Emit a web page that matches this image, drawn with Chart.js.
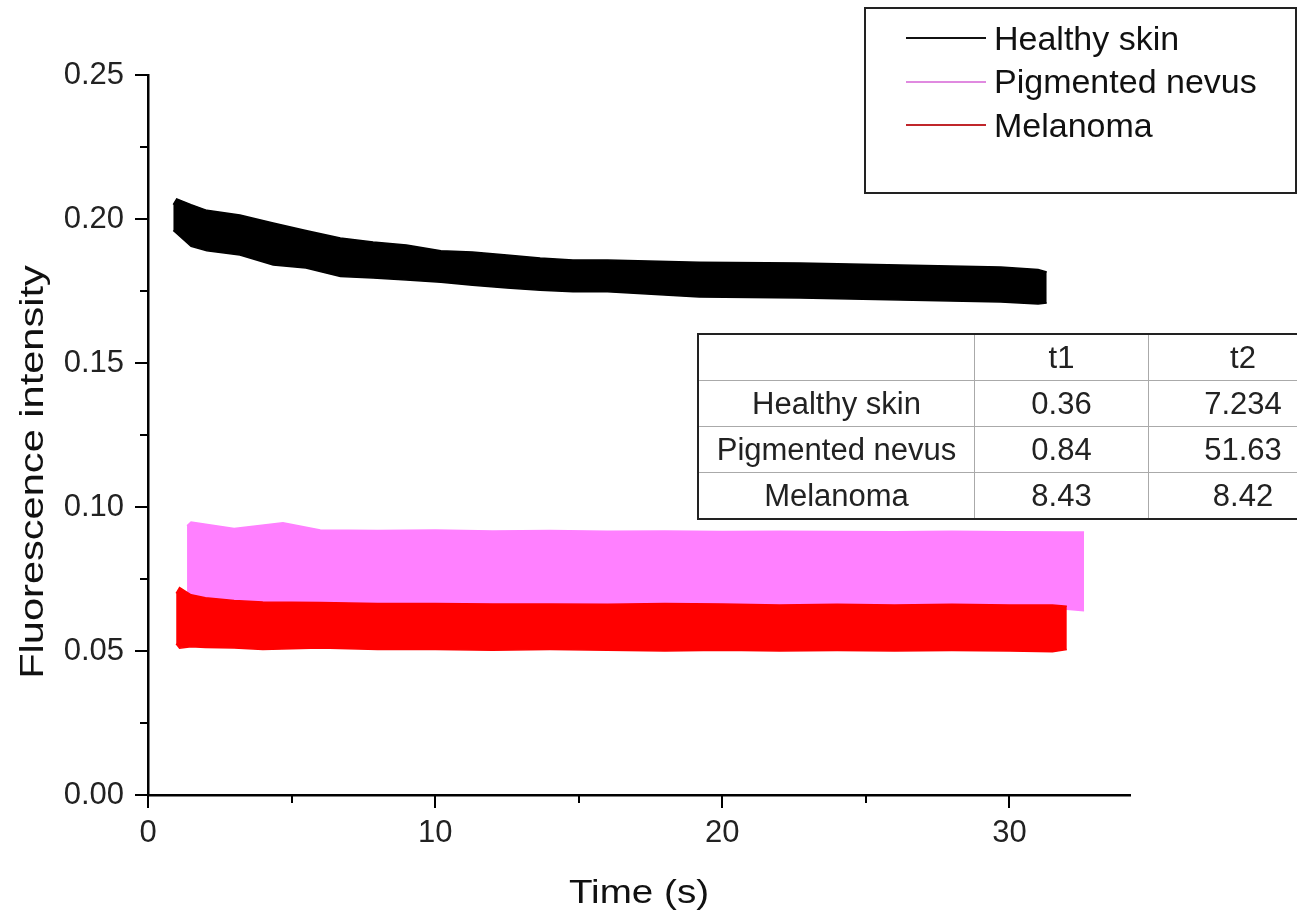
<!DOCTYPE html>
<html>
<head>
<meta charset="utf-8">
<title>Fluorescence intensity</title>
<script src="https://cdn.jsdelivr.net/npm/chart.js@4/dist/chart.umd.min.js"></script>
<style>
  body { margin: 0; background: #fff; overflow: hidden; }
  #wrap { position: relative; width: 1297px; height: 913px; overflow: hidden;
          font-family: "Liberation Sans", Arial, sans-serif; color: #111; }
  #legend { position: absolute; left: 864px; top: 7px; width: 433px; height: 187px;
            border: 2px solid #222; box-sizing: border-box; }
  #legend .row { position: absolute; left: 40px; height: 40px; display: flex; align-items: center;
                 font-size: 34px; white-space: nowrap; }
  #legend .line { display: inline-block; width: 80px; border-top: 2px solid; margin-right: 8px; }
  #tbl { position: absolute; left: 697px; top: 333px; width: 636px; table-layout: fixed;
         border-collapse: collapse; border: 2px solid #222; font-size: 31px; color: #222; }
  #tbl td { border: 1px solid #aaa; height: 45px; padding: 0; text-align: center; white-space: nowrap; }
</style>
</head>
<body>
<div id="wrap">
  <canvas id="myChart" width="1297" height="913"></canvas>
  <div id="legend"></div>
  <table id="tbl"></table>
</div>
<script>
// decay traces, stored as upper / lower edge of the noise band (s, a.u.)
var healthyTime  = [0.88, 1.0, 1.5, 2.05, 3.2, 4.36, 5.5, 6.7, 7.84, 9.0, 10.2, 11.3, 12.5, 13.66, 14.8, 16.0, 19.2, 22.7, 26.2, 29.7, 31.0, 31.3];
var healthyUpper = [0.205, 0.207, 0.205, 0.203, 0.2014, 0.1986, 0.196, 0.1934, 0.192, 0.191, 0.189, 0.1885, 0.1875, 0.1865, 0.1858, 0.1858, 0.185, 0.1847, 0.184, 0.1833, 0.1825, 0.1816];
var healthyLower = [0.196, 0.195, 0.1905, 0.189, 0.1875, 0.184, 0.183, 0.180, 0.1795, 0.1788, 0.178, 0.177, 0.176, 0.1753, 0.1747, 0.1747, 0.1729, 0.1726, 0.1719, 0.1712, 0.1705, 0.1708];

var nevusTime  = [1.36, 1.5, 3.0, 4.7, 6, 8, 10, 12, 14, 16, 18, 20, 22, 24, 26, 28, 30, 32, 32.6];
var nevusUpper = [0.0935, 0.0948, 0.0925, 0.0945, 0.092, 0.0918, 0.092, 0.0917, 0.0918, 0.0916, 0.0917, 0.0915, 0.0916, 0.0915, 0.0914, 0.0916, 0.0914, 0.0913, 0.0913];
var nevusLower = [0.066, 0.066, 0.0655, 0.0655, 0.0655, 0.0655, 0.0655, 0.0652, 0.0655, 0.0652, 0.0652, 0.065, 0.0652, 0.065, 0.065, 0.065, 0.0648, 0.0645, 0.064];

var melanomaTime  = [0.98, 1.1, 1.5, 2, 3, 4, 6, 8, 10, 12, 14, 16, 18, 20, 22, 24, 26, 28, 30, 31.5, 32.0];
var melanomaUpper = [0.070, 0.072, 0.0695, 0.0685, 0.0675, 0.067, 0.0668, 0.0665, 0.0665, 0.0663, 0.0663, 0.0662, 0.0665, 0.0663, 0.066, 0.0662, 0.066, 0.0662, 0.066, 0.066, 0.0655];
var melanomaLower = [0.0525, 0.051, 0.0515, 0.0512, 0.051, 0.0505, 0.051, 0.0505, 0.0505, 0.0503, 0.0505, 0.0503, 0.050, 0.0503, 0.050, 0.0502, 0.050, 0.0502, 0.050, 0.0497, 0.0505];

var seriesNames  = ['Healthy skin', 'Pigmented nevus', 'Melanoma'];
var seriesColors = ['#000000', '#ff80ff', '#ff0000'];
var legendColors = ['#111111', '#e08ae0', '#c0262b'];

// fitted lifetimes
var tableHead = ['', 't1', 't2'];
var t1 = ['0.36', '0.84', '8.43'];
var t2 = ['7.234', '51.63', '8.42'];

var xTicks = [0, 10, 20, 30];
var yTicks = [0.00, 0.05, 0.10, 0.15, 0.20, 0.25];
var xMax = 34.2;

function pts(t, v) {
  return t.map(function (x, i) { return { x: x, y: v[i] }; });
}

function band(name, color, t, up, lo) {
  return [
    { label: name, data: pts(t, up), borderColor: color, backgroundColor: color,
      borderWidth: 1.5, pointRadius: 0, tension: 0, fill: '+1' },
    { label: name, data: pts(t, lo), borderColor: color, backgroundColor: color,
      borderWidth: 1.5, pointRadius: 0, tension: 0, fill: false }
  ];
}

// first datasets are painted last, so melanoma sits on top of the nevus band
var datasets = []
  .concat(band(seriesNames[2], seriesColors[2], melanomaTime, melanomaUpper, melanomaLower))
  .concat(band(seriesNames[1], seriesColors[1], nevusTime, nevusUpper, nevusLower))
  .concat(band(seriesNames[0], seriesColors[0], healthyTime, healthyUpper, healthyLower));

var FONT = '"Liberation Sans", Arial, sans-serif';

// tick marks (major + minor, outside) and axis titles
var axisMarks = {
  id: 'axisMarks',
  afterDraw: function (chart) {
    var ctx = chart.ctx, x = chart.scales.x, y = chart.scales.y;
    var bottom = chart.chartArea.bottom, left = chart.chartArea.left;
    ctx.save();
    ctx.strokeStyle = '#000';
    ctx.lineWidth = 2;
    ctx.beginPath();
    for (var i = 0; i * 5 <= xMax; i++) {
      var px = Math.round(x.getPixelForValue(i * 5));
      ctx.moveTo(px, bottom);
      ctx.lineTo(px, bottom + (i % 2 === 0 ? 13 : 8));
    }
    for (var j = 0; j <= 10; j++) {
      var py = Math.round(y.getPixelForValue(j * 0.025));
      ctx.moveTo(left, py);
      ctx.lineTo(left - (j % 2 === 0 ? 13 : 8), py);
    }
    ctx.stroke();

    ctx.fillStyle = '#111';
    ctx.font = '33px ' + FONT;
    ctx.textAlign = 'center';
    ctx.textBaseline = 'alphabetic';
    ctx.save();
    ctx.translate(639, 903);
    ctx.scale(1.17, 1);
    ctx.fillText('Time (s)', 0, 0);
    ctx.restore();

    ctx.save();
    ctx.translate(43, 472);
    ctx.rotate(-Math.PI / 2);
    ctx.scale(1.26, 1);
    ctx.fillText('Fluorescence intensity', 0, 0);
    ctx.restore();
    ctx.restore();
  }
};

var ctx = document.getElementById('myChart').getContext('2d');
var chart = new Chart(ctx, {
  type: 'line',
  data: { datasets: datasets },
  options: {
    responsive: false,
    animation: false,
    layout: { padding: { top: 75, right: 167, left: 0, bottom: 0 } },
    plugins: { legend: { display: false }, tooltip: { enabled: false } },
    scales: {
      x: {
        type: 'linear', min: 0, max: xMax,
        afterFit: function (s) { s.height = 118; },
        afterBuildTicks: function (s) { s.ticks = xTicks.map(function (v) { return { value: v }; }); },
        grid: { display: false, drawTicks: false },
        border: { display: true, color: '#000', width: 2.5 },
        ticks: { color: '#222', padding: 20, maxRotation: 0, autoSkip: false,
                 font: { family: FONT, size: 31 } }
      },
      y: {
        min: 0, max: 0.25,
        afterFit: function (s) { s.width = 148; },
        afterBuildTicks: function (s) { s.ticks = yTicks.map(function (v) { return { value: v }; }); },
        grid: { display: false, drawTicks: false },
        border: { display: true, color: '#000', width: 2.5 },
        ticks: { color: '#222', padding: 24, autoSkip: false,
                 font: { family: FONT, size: 31 },
                 callback: function (v) { return v.toFixed(2); } }
      }
    }
  },
  plugins: [axisMarks]
});

// legend box
var legend = document.getElementById('legend');
seriesNames.forEach(function (name, i) {
  var row = document.createElement('div');
  row.className = 'row';
  row.style.top = (9 + i * 43.5) + 'px';
  row.innerHTML = '<span class="line" style="border-color:' + legendColors[i] + '"></span>' + name;
  legend.appendChild(row);
});

// lifetime table
var tbl = document.getElementById('tbl');
var widths = [275, 173, 188];
var head = tbl.insertRow();
tableHead.forEach(function (h, i) {
  var c = head.insertCell();
  c.textContent = h;
  c.style.width = widths[i] + 'px';
});
seriesNames.forEach(function (name, i) {
  var r = tbl.insertRow();
  r.insertCell().textContent = name;
  r.insertCell().textContent = t1[i];
  r.insertCell().textContent = t2[i];
});
</script>
</body>
</html>
